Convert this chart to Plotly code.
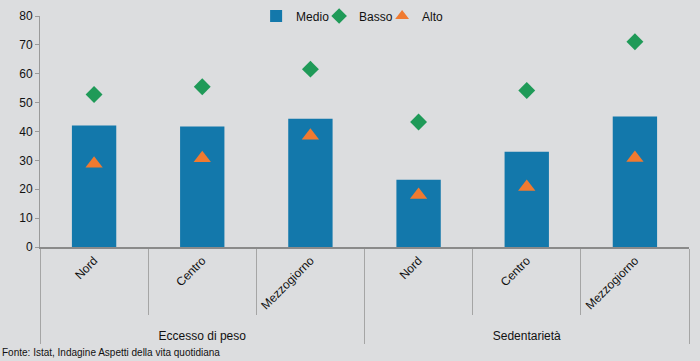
import plotly.graph_objects as go

groups = ["Eccesso di peso"] * 3 + ["Sedentarietà"] * 3
areas = ["Nord", "Centro", "Mezzogiorno", "Nord", "Centro", "Mezzogiorno"]
medio = [42.1, 41.7, 44.4, 23.3, 33.0, 45.2]
basso = [52.8, 55.5, 61.6, 43.3, 54.2, 71.1]
alto = [28.8, 30.7, 38.5, 18.0, 20.8, 30.8]
source_note = "Fonte: Istat, Indagine Aspetti della vita quotidiana"

x = [groups, areas]
fig = go.Figure()
fig.add_trace(go.Bar(x=x, y=medio, name="Medio", marker=dict(color="#1378ab", line=dict(width=0)), width=0.41))
fig.add_trace(go.Scatter(x=x, y=basso, name="Basso", mode="markers",
                         marker=dict(symbol="diamond", size=13, color="#1f9a58")))
fig.add_trace(go.Scatter(x=x, y=alto, name="Alto", mode="markers",
                         marker=dict(symbol="triangle-up", size=15, color="#f07a30")))

fig.update_layout(
    width=700, height=361,
    margin=dict(l=40, r=11, t=16, b=114, autoexpand=False),
    paper_bgcolor="#dcdddf", plot_bgcolor="#dcdddf",
    font=dict(family="Liberation Sans, Arial, sans-serif", size=11, color="#111111"),
    showlegend=True,
    legend=dict(orientation="h", x=0.333, xanchor="left", y=1.0, yanchor="middle",
                bgcolor="rgba(0,0,0,0)", font=dict(size=12), itemwidth=30,
                entrywidth=18, entrywidthmode="pixels",
                itemsizing="constant", tracegroupgap=0),
    bargap=0.59,
)
fig.update_yaxes(range=[0, 80], dtick=10, showgrid=False, zeroline=False,
                 showline=True, linecolor="#9a9a9a", linewidth=1,
                 ticks="outside", ticklen=4, tickcolor="#9a9a9a",
                 tickfont=dict(size=12))
fig.update_xaxes(type="multicategory", showgrid=False, showline=True, linecolor="#8a8a8a", linewidth=2,
                 tickangle=-45, ticks="outside", tickson="boundaries", ticklen=66, tickcolor="#a5a5a5",
                 showdividers=True, dividercolor="#a5a5a5", dividerwidth=1,
                 tickfont=dict(size=12))
fig.add_annotation(text=source_note, x=0, xref="paper", xanchor="left", y=-0.455, yref="paper",
                   yanchor="middle", showarrow=False, xshift=-40,
                   font=dict(family="Liberation Sans Narrow, Liberation Sans, sans-serif", size=10, color="#111111"))
fig.write_html("out.html", config={"displayModeBar": False},
               post_script="document.body.style.margin='0';document.body.style.background='#dcdddf';")
